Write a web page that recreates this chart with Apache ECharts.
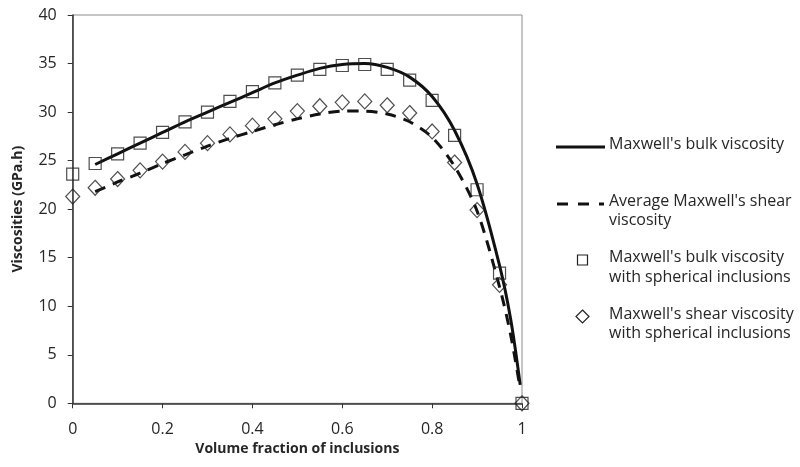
<!DOCTYPE html>
<html>
<head>
<meta charset="utf-8">
<script src="https://cdn.jsdelivr.net/npm/echarts@6/dist/echarts.min.js"></script>
<style>
  html, body { margin: 0; padding: 0; background: #fff; }
  #chart { width: 800px; height: 467px; }
</style>
</head>
<body>
<div id="chart"></div>
<script>
// Volume fraction sample points for the inclusion-model markers
const fractionPoints = [0, 0.05, 0.1, 0.15, 0.2, 0.25, 0.3, 0.35, 0.4, 0.45, 0.5,
  0.55, 0.6, 0.65, 0.7, 0.75, 0.8, 0.85, 0.9, 0.95, 1.0];
const bulkInclusions = [23.6, 24.7, 25.7, 26.8, 27.9, 29.0, 30.0, 31.1, 32.1, 33.0, 33.8,
  34.4, 34.8, 34.9, 34.4, 33.3, 31.2, 27.6, 22.0, 13.4, 0];
const shearInclusions = [21.3, 22.2, 23.1, 24.0, 24.9, 25.9, 26.8, 27.7, 28.6, 29.3, 30.1,
  30.6, 31.0, 31.1, 30.7, 29.9, 28.0, 24.8, 19.9, 12.2, 0];

// Volume fraction sample points for the Maxwell curves
const fractionCurve = [0.05, 0.1, 0.15, 0.2, 0.25, 0.3, 0.35, 0.4, 0.45, 0.5,
  0.55, 0.6, 0.65, 0.7, 0.75, 0.8, 0.85, 0.9, 0.95, 0.975, 0.996];
const bulkCurve = [24.6, 25.7, 26.8, 27.9, 29.0, 30.0, 31.0, 32.0, 33.0, 33.8,
  34.5, 34.9, 35.0, 34.6, 33.6, 31.6, 28.1, 22.6, 14.2, 8.6, 1.9];
const shearCurve = [21.8, 22.8, 23.7, 24.7, 25.6, 26.5, 27.3, 28.0, 28.7, 29.3,
  29.8, 30.1, 30.1, 29.8, 29.0, 27.4, 24.4, 19.8, 12.0, 7.0, 1.5];

const xTicks = [0, 0.2, 0.4, 0.6, 0.8, 1];
const yTicks = [0, 5, 10, 15, 20, 25, 30, 35, 40];

const seriesNames = [
  "Maxwell's bulk viscosity",
  "Average Maxwell's shear viscosity",
  "Maxwell's bulk viscosity with spherical inclusions",
  "Maxwell's shear viscosity with spherical inclusions"
];

const pairs = (xs, ys) => xs.map((x, i) => [x, ys[i]]);

const FONT = "'Open Sans', 'Noto Sans', sans-serif";
const TEXT = '#262626';

const chart = echarts.init(document.getElementById('chart'), null, { renderer: 'canvas' });

// Legend drawn as graphic blocks: one symbol plus one or two text lines each
const textX = 609;
const legendText = (y, txt) => ({
  type: 'text', left: textX, top: y - 11,
  style: { text: txt, font: '16px ' + FONT, fill: TEXT }
});

chart.setOption({
  animation: false,
  backgroundColor: '#fff',
  grid: { left: 72.7, right: 278, top: 15, bottom: 63.7, show: true, borderColor: '#8c8c8c', borderWidth: 1 },
  xAxis: {
    type: 'value', min: 0, max: 1, interval: 0.2,
    name: 'Volume fraction of inclusions', nameLocation: 'middle', nameGap: 34,
    nameTextStyle: { fontFamily: FONT, fontSize: 14, fontWeight: 'bold', color: TEXT },
    axisLine: { show: true, lineStyle: { color: '#333', width: 1.5 } },
    axisTick: { show: true, inside: false, length: 5, lineStyle: { color: '#333' } },
    axisLabel: {
      fontFamily: FONT, fontSize: 16, color: TEXT, margin: 18,
      formatter: v => { const t = xTicks.find(k => Math.abs(k - v) < 1e-9); return t === undefined ? '' : String(t); }
    },
    splitLine: { show: false }
  },
  yAxis: {
    type: 'value', min: 0, max: 40, interval: 5,
    name: 'Viscosities (GPa.h)', nameLocation: 'middle', nameGap: 48,
    nameTextStyle: { fontFamily: FONT, fontSize: 14, fontWeight: 'bold', color: TEXT },
    axisLine: { show: true, lineStyle: { color: '#333', width: 1.5 } },
    axisTick: { show: true, inside: false, length: 5, lineStyle: { color: '#333' } },
    axisLabel: {
      fontFamily: FONT, fontSize: 16, color: TEXT, margin: 16,
      formatter: v => { const t = yTicks.find(k => Math.abs(k - v) < 1e-9); return t === undefined ? '' : String(t); }
    },
    splitLine: { show: false }
  },
  series: [
    {
      name: seriesNames[0], type: 'line', data: pairs(fractionCurve, bulkCurve),
      smooth: 0.3, showSymbol: false, z: 3,
      lineStyle: { color: '#111', width: 3 }
    },
    {
      name: seriesNames[1], type: 'line', data: pairs(fractionCurve, shearCurve),
      smooth: 0.3, showSymbol: false, z: 3,
      lineStyle: { color: '#111', width: 3, type: [11, 8] }
    },
    {
      name: seriesNames[2], type: 'scatter', data: pairs(fractionPoints, bulkInclusions),
      symbol: 'rect', symbolSize: 12, z: 4,
      itemStyle: { color: 'rgba(255,255,255,0)', borderColor: '#222', borderWidth: 1.2 }
    },
    {
      name: seriesNames[3], type: 'scatter', data: pairs(fractionPoints, shearInclusions),
      symbol: 'diamond', symbolSize: [14, 15], z: 4,
      itemStyle: { color: 'rgba(255,255,255,0)', borderColor: '#222', borderWidth: 1.2 }
    }
  ],
  graphic: [
    { type: 'line', shape: { x1: 556, y1: 147, x2: 605, y2: 147 }, style: { stroke: '#111', lineWidth: 3 } },
    legendText(147, "Maxwell's bulk viscosity"),
    { type: 'line', shape: { x1: 557, y1: 204, x2: 604, y2: 204 }, style: { stroke: '#111', lineWidth: 3, lineDash: [11, 10] } },
    legendText(204, "Average Maxwell's shear"),
    legendText(223, 'viscosity'),
    { type: 'rect', shape: { x: 577.5, y: 255, width: 10, height: 10 }, style: { fill: 'none', stroke: '#222', lineWidth: 1.2 } },
    legendText(260, "Maxwell's bulk viscosity"),
    legendText(280, 'with spherical inclusions'),
    { type: 'polygon', shape: { points: [[582.5, 310], [589, 316.5], [582.5, 323], [576, 316.5]] }, style: { fill: 'none', stroke: '#222', lineWidth: 1.2 } },
    legendText(317, "Maxwell's shear viscosity"),
    legendText(336, 'with spherical inclusions')
  ]
});
</script>
</body>
</html>
